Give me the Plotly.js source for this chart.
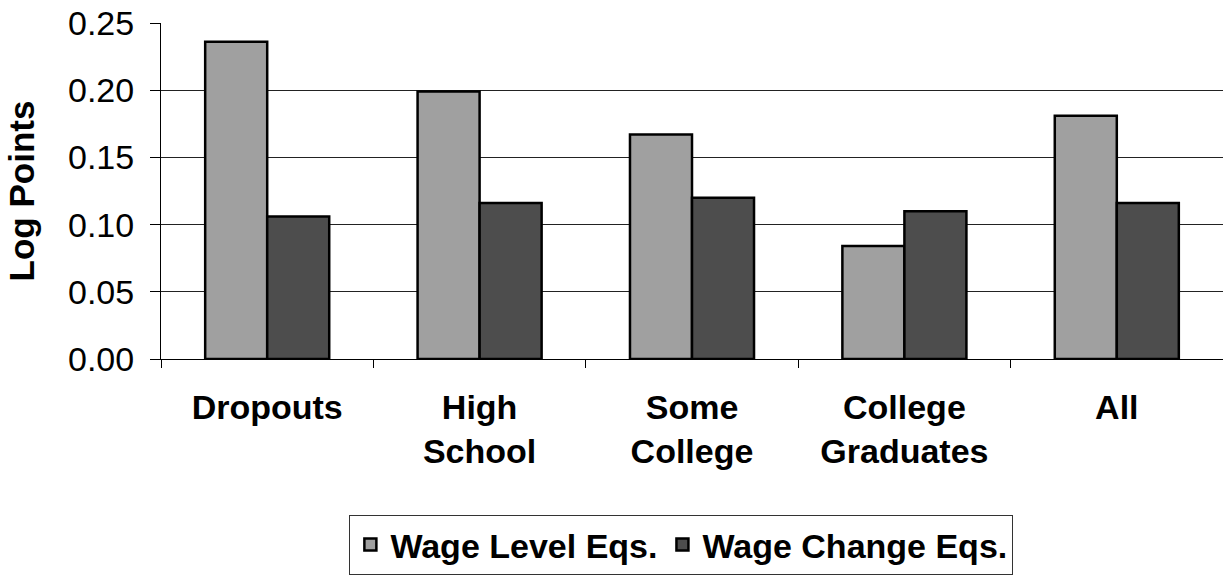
<!DOCTYPE html>
<html>
<head>
<meta charset="utf-8">
<script src="https://cdn.plot.ly/plotly-3.0.1.min.js"></script>
<style>
  html, body { margin: 0; padding: 0; background: #fff; }
  #chart { width: 1223px; height: 575px; }
</style>
</head>
<body>
<div id="chart"></div>
<script>
const categories = ["Dropouts", "High<br>School", "Some<br>College", "College<br>Graduates", "All"];
const wageLevelEqs = [0.236, 0.199, 0.167, 0.084, 0.181];
const wageChangeEqs = [0.106, 0.116, 0.120, 0.110, 0.116];
const seriesNames = ["Wage Level Eqs.", "Wage Change Eqs."];
const yTickVals = [0, 0.05, 0.10, 0.15, 0.20, 0.25];
const yTickText = ["0.00", "0.05", "0.10", "0.15", "0.20", "0.25"];

const font = "Liberation Sans, Arial, sans-serif";

const traces = [
  {
    type: "bar", name: seriesNames[0], x: categories, y: wageLevelEqs,
    marker: { color: "#a0a0a0", line: { color: "#000", width: 2.5 } },
    hoverinfo: "x+y"
  },
  {
    type: "bar", name: seriesNames[1], x: categories, y: wageChangeEqs,
    marker: { color: "#4d4d4d", line: { color: "#000", width: 2.5 } },
    hoverinfo: "x+y"
  }
];

const layout = {
  width: 1223, height: 575,
  margin: { l: 161, r: 0, t: 23, b: 215 },
  paper_bgcolor: "#fff", plot_bgcolor: "#fff",
  barmode: "group", bargap: 0.416, bargroupgap: 0,
  font: { family: font, color: "#000" },
  showlegend: true,
  legend: {
    orientation: "h", x: 0.49, xanchor: "center", y: -0.466, yanchor: "top",
    bordercolor: "#333", borderwidth: 1,
    font: { family: font, size: 34, color: "#000", weight: "bold" },
    itemwidth: 30, tracegroupgap: 0
  },
  xaxis: {
    type: "category",
    showline: true, linecolor: "#000", linewidth: 1,
    ticks: "outside", tickson: "boundaries", ticklen: 8, tickcolor: "#000", tickwidth: 1,
    tickfont: { family: font, size: 34, color: "#000", weight: "bold" },
    showgrid: false, zeroline: false, automargin: false,
    ticklabelstandoff: 18
  },
  yaxis: {
    range: [0, 0.25],
    tickvals: yTickVals, ticktext: yTickText,
    showline: true, linecolor: "#000", linewidth: 1,
    ticks: "outside", ticklen: 10, tickcolor: "#000", tickwidth: 1,
    tickfont: { family: font, size: 34, color: "#000" },
    ticklabelstandoff: 9,
    showgrid: true, gridcolor: "#222", gridwidth: 1,
    zeroline: false, automargin: true,
    title: { text: "Log Points", font: { family: font, size: 35, color: "#000", weight: "bold" }, standoff: 22 }
  }
};

Plotly.newPlot("chart", traces, layout, { displayModeBar: false, staticPlot: true });
</script>
</body>
</html>
